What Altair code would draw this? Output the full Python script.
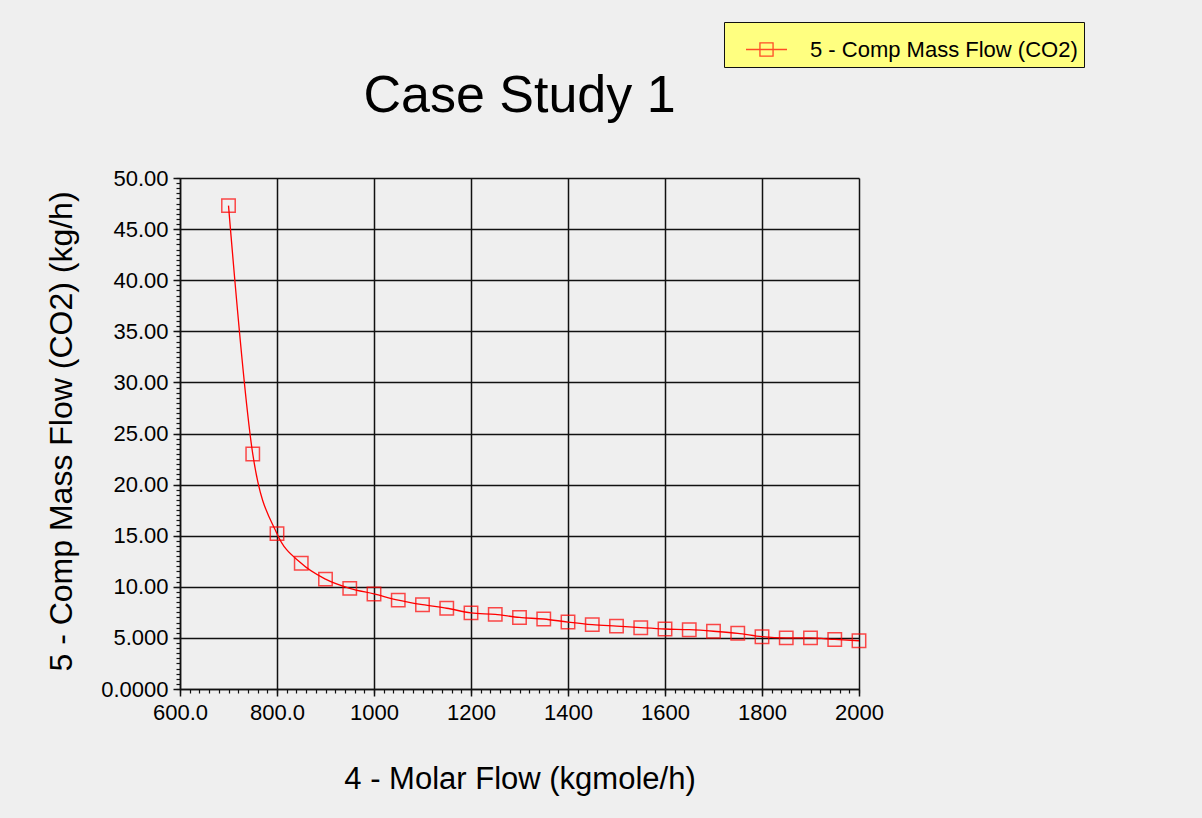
import altair as alt
import pandas as pd

# ---- data ----
series_name = "5 - Comp Mass Flow (CO2)"
molar_flow = [700, 750, 800, 850, 900, 950, 1000, 1050, 1100, 1150, 1200, 1250, 1300, 1350,
              1400, 1450, 1500, 1550, 1600, 1650, 1700, 1750, 1800, 1850, 1900, 1950, 2000]
co2_mass_flow = [47.3, 23.0, 15.2, 12.3, 10.75, 9.85, 9.3, 8.7, 8.25, 7.9, 7.45, 7.3, 7.0, 6.85,
                 6.55, 6.3, 6.15, 6.0, 5.87, 5.8, 5.65, 5.45, 5.12, 5.0, 5.0, 4.85, 4.72]

x_major = [600, 800, 1000, 1200, 1400, 1600, 1800, 2000]
y_major = [0, 5, 10, 15, 20, 25, 30, 35, 40, 45, 50]
x_minor = list(range(600, 2001, 20))
y_minor = [v / 2 for v in range(0, 101)]

chart_title = "Case Study 1"
x_title = "4 - Molar Flow (kgmole/h)"
y_title = "5 - Comp Mass Flow (CO2) (kg/h)"

df = pd.DataFrame({"flow": molar_flow, "co2": co2_mass_flow, "series": series_name})

FONT = "Liberation Sans"
W, H = 679, 511
PAD_L, PAD_T = 180, 178

xs = alt.Scale(domain=[600, 2000], nice=False, zero=False)
ys = alt.Scale(domain=[0, 50], nice=False, zero=False)

major_x_axis = alt.Axis(
    orient="bottom", values=x_major, title=x_title,
    labelExpr="datum.value < 1000 ? format(datum.value, '.1f') : format(datum.value, 'd')",
    grid=True, gridColor="#111111", gridWidth=1.5, gridOpacity=1,
    domain=True, domainColor="#111111", domainWidth=1.5,
    ticks=True, tickColor="#111111", tickSize=7, tickWidth=1.5,
    labelFont=FONT, labelFontSize=22, labelColor="#000000", labelPadding=6,
    labelOverlap=False, labelFlush=False,
    titleFont=FONT, titleFontSize=31, titleFontWeight="normal", titleColor="#000000",
    titleX=W / 2, titleY=99, titleBaseline="alphabetic",
)
major_y_axis = alt.Axis(
    orient="left", values=y_major, title=y_title,
    labelExpr="datum.value == 0 ? '0.0000' : format(datum.value, '.4r')",
    grid=True, gridColor="#111111", gridWidth=1.5, gridOpacity=1,
    domain=True, domainColor="#111111", domainWidth=1.5,
    ticks=True, tickColor="#111111", tickSize=7, tickWidth=1.5,
    labelFont=FONT, labelFontSize=22, labelColor="#000000", labelPadding=5,
    labelOverlap=False, labelFlush=False,
    titleFont=FONT, titleFontSize=32, titleFontWeight="normal", titleColor="#000000",
    titleX=-109, titleY=253, titleBaseline="alphabetic",
)
minor_x_axis = alt.Axis(orient="bottom", values=x_minor, labels=False, grid=False, domain=False,
                        ticks=True, tickSize=4, tickWidth=1.2, tickColor="#111111", title=None)
minor_y_axis = alt.Axis(orient="left", values=y_minor, labels=False, grid=False, domain=False,
                        ticks=True, tickSize=4, tickWidth=1.2, tickColor="#111111", title=None)

base = alt.Chart(df)

minor = base.mark_point(opacity=0).encode(
    x=alt.X("flow:Q", scale=xs, axis=minor_x_axis),
    y=alt.Y("co2:Q", scale=ys, axis=minor_y_axis),
)

line = base.mark_line(color="#ff0000", strokeWidth=1.3, interpolate="monotone").encode(
    x=alt.X("flow:Q", scale=xs, axis=major_x_axis),
    y=alt.Y("co2:Q", scale=ys, axis=major_y_axis),
)

legend_symbol = "M-1,0H1M-0.32,-0.32H0.32V0.32H-0.32Z"

points = base.mark_point(shape="square", filled=False, size=180, strokeWidth=1.5).encode(
    x=alt.X("flow:Q", scale=xs, axis=None),
    y=alt.Y("co2:Q", scale=ys, axis=None),
    color=alt.Color(
        "series:N",
        scale=alt.Scale(domain=[series_name], range=["#ff0000"]),
        legend=alt.Legend(
            title=None, orient="none", legendX=544, legendY=-156,
            fillColor="#ffff80", strokeColor="#111111", padding=6,
            symbolType=legend_symbol, symbolSize=1681, symbolStrokeWidth=1.3,
            symbolStrokeColor="#ff0000", symbolFillColor="transparent",
            symbolOffset=15, labelOffset=22,
            labelFont=FONT, labelFontSize=22, labelColor="#000000", labelLimit=500,
        ),
    ),
)

chart = (
    alt.layer(minor, line, points)
    .resolve_axis(x="independent", y="independent")
    .properties(
        width=W, height=H,
        padding={"left": PAD_L, "top": PAD_T, "right": 1202 - PAD_L - W, "bottom": 818 - PAD_T - H},
        autosize=alt.AutoSizeParams(type="none"),
        title=alt.TitleParams(chart_title, font=FONT, fontSize=52, fontWeight="normal",
                              color="#000000", anchor="middle", baseline="alphabetic",
                              offset=57, dy=199),
        background="#efefef",
    )
    .configure_view(stroke=None)
)

chart.save("out.html", embed_options={"renderer": "svg", "actions": False})
